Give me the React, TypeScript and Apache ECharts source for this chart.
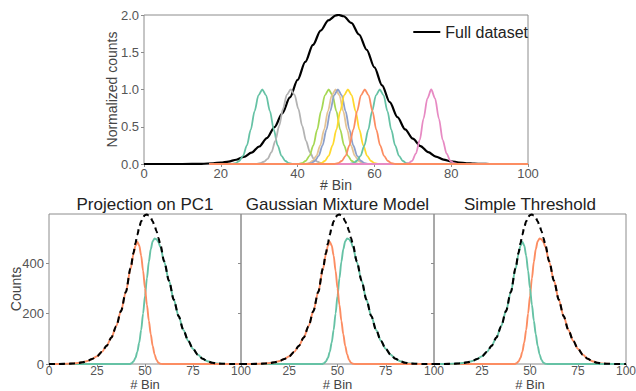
import React, { useEffect, useRef } from 'react';
import * as echarts from 'echarts';

const FONT = '"Liberation Sans", Arial, Helvetica, sans-serif';
const GREEN = '#66c2a5';
const ORANGE = '#fc8d62';

// ---------- Top panel data (x = # Bin, y = normalized counts) ----------
const topFullName = 'Full dataset';
const topFull: number[][] = [
  [0, 0], [10, 0], [15, 0.003], [18, 0.01], [20, 0.018], [22, 0.033], [24, 0.057], [26, 0.095],
  [28, 0.152], [30, 0.235], [32, 0.348], [34, 0.496], [36, 0.679], [38, 0.893], [40, 1.129],
  [42, 1.37], [44, 1.598], [46, 1.791], [48, 1.928], [50, 1.995], [50.7, 2.0], [52, 1.983],
  [54, 1.894], [56, 1.738], [58, 1.533], [60, 1.298], [62, 1.056], [64, 0.83], [66, 0.63],
  [68, 0.465], [70, 0.34], [72, 0.24], [74, 0.16], [76, 0.1], [78, 0.06], [80, 0.035],
  [82, 0.02], [84, 0.01], [86, 0.005], [88, 0.002], [90, 0], [100, 0],
];

const topGreenA: number[][] = [
  [17, 0], [22.8, 0], [23.8, 0.01], [24.8, 0.04], [25.8, 0.11], [26.8, 0.25], [27.8, 0.46], [28.8, 0.71], [29.8, 0.92],
  [30.8, 1], [31.8, 0.92], [32.8, 0.71], [33.8, 0.46], [34.8, 0.25], [35.8, 0.11], [36.8, 0.04], [37.8, 0.01], [38.8, 0], [100, 0],
];
const topGray: number[][] = [
  [17, 0], [29.2, 0], [30.2, 0.01], [31.2, 0.03], [32.2, 0.07], [33.2, 0.16], [34.2, 0.31], [35.2, 0.51], [36.2, 0.74], [37.2, 0.93],
  [38.2, 1], [39.2, 0.93], [40.2, 0.74], [41.2, 0.51], [42.2, 0.31], [43.2, 0.16], [44.2, 0.07], [45.2, 0.03], [46.2, 0.01], [47.2, 0], [100, 0],
];
const topLime: number[][] = [
  [17, 0], [40.1, 0], [41.1, 0.01], [42.1, 0.04], [43.1, 0.11], [44.1, 0.25], [45.1, 0.46], [46.1, 0.71], [47.1, 0.92],
  [48.1, 1], [49.1, 0.92], [50.1, 0.71], [51.1, 0.46], [52.1, 0.25], [53.1, 0.11], [54.1, 0.04], [55.1, 0.01], [56.1, 0], [100, 0],
];
const topTan: number[][] = [
  [17, 0], [41.9, 0], [42.9, 0.01], [43.9, 0.04], [44.9, 0.11], [45.9, 0.25], [46.9, 0.46], [47.9, 0.71], [48.9, 0.92],
  [49.9, 1], [50.9, 0.92], [51.9, 0.71], [52.9, 0.46], [53.9, 0.25], [54.9, 0.11], [55.9, 0.04], [56.9, 0.01], [57.9, 0], [100, 0],
];
const topBlue: number[][] = [
  [17, 0], [42.5, 0], [43.5, 0.01], [44.5, 0.04], [45.5, 0.11], [46.5, 0.25], [47.5, 0.46], [48.5, 0.71], [49.5, 0.92],
  [50.5, 1], [51.5, 0.92], [52.5, 0.71], [53.5, 0.46], [54.5, 0.25], [55.5, 0.11], [56.5, 0.04], [57.5, 0.01], [58.5, 0], [100, 0],
];
const topYellow: number[][] = [
  [17, 0], [45.1, 0], [46.1, 0.01], [47.1, 0.04], [48.1, 0.11], [49.1, 0.25], [50.1, 0.46], [51.1, 0.71], [52.1, 0.92],
  [53.1, 1], [54.1, 0.92], [55.1, 0.71], [56.1, 0.46], [57.1, 0.25], [58.1, 0.11], [59.1, 0.04], [60.1, 0.01], [61.1, 0], [100, 0],
];
const topGreenB: number[][] = [
  [17, 0], [53.4, 0], [54.4, 0.01], [55.4, 0.04], [56.4, 0.11], [57.4, 0.25], [58.4, 0.46], [59.4, 0.71], [60.4, 0.92],
  [61.4, 1], [62.4, 0.92], [63.4, 0.71], [64.4, 0.46], [65.4, 0.25], [66.4, 0.11], [67.4, 0.04], [68.4, 0.01], [69.4, 0], [100, 0],
];
const topPink: number[][] = [
  [17, 0], [67.8, 0], [68.8, 0.01], [69.8, 0.04], [70.8, 0.14], [71.8, 0.32], [72.8, 0.61], [73.8, 0.88],
  [74.8, 1], [75.8, 0.88], [76.8, 0.61], [77.8, 0.32], [78.8, 0.14], [79.8, 0.04], [80.8, 0.01], [81.8, 0], [100, 0],
];
const topOrange: number[][] = [
  [17, 0], [49.5, 0], [50.5, 0.01], [51.5, 0.04], [52.5, 0.11], [53.5, 0.25], [54.5, 0.46], [55.5, 0.71], [56.5, 0.92],
  [57.5, 1], [58.5, 0.92], [59.5, 0.71], [60.5, 0.46], [61.5, 0.25], [62.5, 0.11], [63.5, 0.04], [64.5, 0.01], [65.5, 0], [100, 0],
];

// ---------- Bottom panels data (x = # Bin, y = counts) ----------
const panelTitles = ['Projection on PC1', 'Gaussian Mixture Model', 'Simple Threshold'];
const countTicks = [0, 200, 400];

const bottomFull: number[][] = [
  [0, 0], [5, 0], [10, 1], [12.5, 2], [15, 4], [17.5, 7], [20, 12], [22.5, 20], [25, 31], [27.5, 48],
  [30, 72], [32.5, 105], [35, 150], [37.5, 210], [40, 285], [42.5, 380], [44, 440], [45, 478], [46, 512],
  [47, 542], [48, 566], [49, 582], [50, 591], [51, 593], [52, 589], [53, 580], [54, 566], [55, 548],
  [56, 526], [57, 500], [58, 472], [60, 407], [62.5, 330], [65, 255], [67.5, 190], [70, 135], [72.5, 92],
  [75, 60], [77.5, 37], [80, 21], [82.5, 11], [85, 5], [87.5, 2], [90, 1], [95, 0], [100, 0],
];
const bottomLeft: number[][] = [
  [0, 0], [5, 0], [10, 1], [12.5, 2], [15, 4], [17.5, 7], [20, 12], [22.5, 20], [25, 31], [27.5, 48],
  [30, 72], [32.5, 105], [35, 150], [37.5, 210], [40, 285], [42.5, 378], [44, 435], [45, 468], [46, 485],
  [47, 470], [48, 430], [49, 370], [50, 300], [51, 235], [52, 172], [53, 118], [54, 72], [55, 38],
  [56, 16], [57, 5], [58, 1], [59, 0], [100, 0],
];
const bottomRight: number[][] = [
  [0, 0], [42, 0], [43, 3], [44, 10], [45, 24], [46, 48], [47, 85], [48, 135], [49, 200], [50, 270],
  [51, 340], [52, 405], [53, 455], [54, 487], [55, 498], [56, 495], [57, 483], [58, 464], [60, 405],
  [62.5, 330], [65, 255], [67.5, 190], [70, 135], [72.5, 92], [75, 60], [77.5, 37], [80, 21], [82.5, 11],
  [85, 5], [87.5, 2], [90, 1], [95, 0], [100, 0],
];

const TICK_COLOR = '#555';
const FRAME = '#8c8c8c';

function xAxisDef(gridIndex: number, interval: number, hideMin: boolean, nameGap: number,
  labelSize: number, labelMargin: number, nameSize: number) {
  return {
    type: 'value', gridIndex, min: 0, max: 100, interval,
    axisLine: { show: false },
    axisTick: { show: true, length: 3, lineStyle: { color: FRAME } },
    axisLabel: { fontSize: labelSize, color: TICK_COLOR, margin: labelMargin, fontFamily: FONT, showMinLabel: !hideMin },
    splitLine: { show: false },
    name: '# Bin', nameLocation: 'middle', nameGap, nameMoveOverlap: false,
    nameTextStyle: { fontSize: nameSize, color: '#444', fontFamily: FONT },
  };
}

export default function App() {
  const ref = useRef<HTMLDivElement>(null);
  useEffect(() => {
    if (!ref.current) return;
    const chart = echarts.init(ref.current, null, { renderer: 'svg' });
    const grids = [
      { left: 144, top: 15, width: 384, height: 149 },
      { left: 49, top: 214, width: 192, height: 150 },
      { left: 241, top: 214, width: 193, height: 150 },
      { left: 434, top: 214, width: 192, height: 150 },
    ].map((g) => ({
      ...g, show: true, borderColor: FRAME, borderWidth: 1, backgroundColor: 'transparent',
      containLabel: false, outerBoundsMode: 'none',
    }));

    const line = (name: string, data: number[][], color: string, xi: number, width = 1.8, extra: any = {}) => ({
      type: 'line', name, data, xAxisIndex: xi, yAxisIndex: xi, showSymbol: false, symbol: 'none',
      smooth: 0.3, smoothMonotone: 'x', silent: true,
      lineStyle: { color, width, ...extra }, itemStyle: { color }, z: 2,
    });

    const topSeries = [
      line(topFullName, topFull, '#000', 0, 2.2),
      line('c1', topGreenA, GREEN, 0),
      line('c8', topGray, '#b3b3b3', 0),
      line('c5', topLime, '#a6d854', 0),
      line('c7', topTan, '#e5c494', 0),
      line('c3', topBlue, '#8da0cb', 0),
      line('c6', topYellow, '#ffd92f', 0),
      line('c9', topGreenB, GREEN, 0),
      line('c4', topPink, '#e78ac3', 0),
      line('c2', topOrange, ORANGE, 0),
    ];

    const bottomSeries: any[] = [];
    [1, 2, 3].forEach((p) => {
      const leftColor = p === 3 ? GREEN : ORANGE;
      const rightColor = p === 3 ? ORANGE : GREEN;
      bottomSeries.push(line(`right${p}`, bottomRight, rightColor, p, 1.9));
      bottomSeries.push(line(`left${p}`, bottomLeft, leftColor, p, 1.9));
      bottomSeries.push({ ...line(`full${p}`, bottomFull, '#000', p, 2.1, { type: [6, 4] }), z: 3 });
    });

    const yBottom = (gridIndex: number, showLabels: boolean) => ({
      type: 'value', gridIndex, min: 0, max: 595,
      axisLine: { show: false },
      axisTick: { show: true, length: 3, lineStyle: { color: FRAME }, customValues: countTicks },
      axisLabel: { show: showLabels, fontSize: 13, color: TICK_COLOR, margin: 5, fontFamily: FONT, customValues: countTicks },
      splitLine: { show: false },
      ...(showLabels ? {
        name: 'Counts', nameLocation: 'middle', nameGap: 26, nameMoveOverlap: false,
        nameTextStyle: { fontSize: 14, color: '#444', fontFamily: FONT },
      } : {}),
    });

    const titleCenters = [145, 337.5, 530];

    chart.setOption({
      animation: false,
      backgroundColor: '#fff',
      textStyle: { fontFamily: FONT },
      grid: grids,
      legend: {
        data: [topFullName], right: 108, top: 24, padding: 0,
        icon: 'rect', itemWidth: 27, itemHeight: 2, itemGap: 8,
        textStyle: { fontSize: 16, color: '#222', fontFamily: FONT },
        selectedMode: false,
      },
      xAxis: [
        xAxisDef(0, 20, false, 14, 13, 3, 14),
        xAxisDef(1, 25, false, 14, 12, 1, 13),
        xAxisDef(2, 25, true, 14, 12, 1, 13),
        xAxisDef(3, 25, true, 14, 12, 1, 13),
      ],
      yAxis: [
        {
          type: 'value', gridIndex: 0, min: 0, max: 2, interval: 0.5,
          axisLine: { show: false },
          axisTick: { show: true, length: 3, lineStyle: { color: FRAME } },
          axisLabel: { fontSize: 13, color: TICK_COLOR, margin: 5, fontFamily: FONT, formatter: (v: number) => v.toFixed(1) },
          splitLine: { show: false },
          name: 'Normalized counts', nameLocation: 'middle', nameGap: 25, nameMoveOverlap: false,
          nameTextStyle: { fontSize: 14, color: '#444', fontFamily: FONT },
        },
        yBottom(1, true), yBottom(2, false), yBottom(3, false),
      ],
      graphic: panelTitles.map((t, i) => ({
        type: 'text', x: titleCenters[i], y: 204, silent: true,
        style: { text: t, fontSize: 17, fontFamily: FONT, fill: '#222', textAlign: 'center', textVerticalAlign: 'middle' },
      })),
      series: [...topSeries, ...bottomSeries],
    });
    return () => chart.dispose();
  }, []);
  return <div ref={ref} style={{ position: 'fixed', left: 0, top: 0, width: 636, height: 391, background: '#fff' }} />;
}
